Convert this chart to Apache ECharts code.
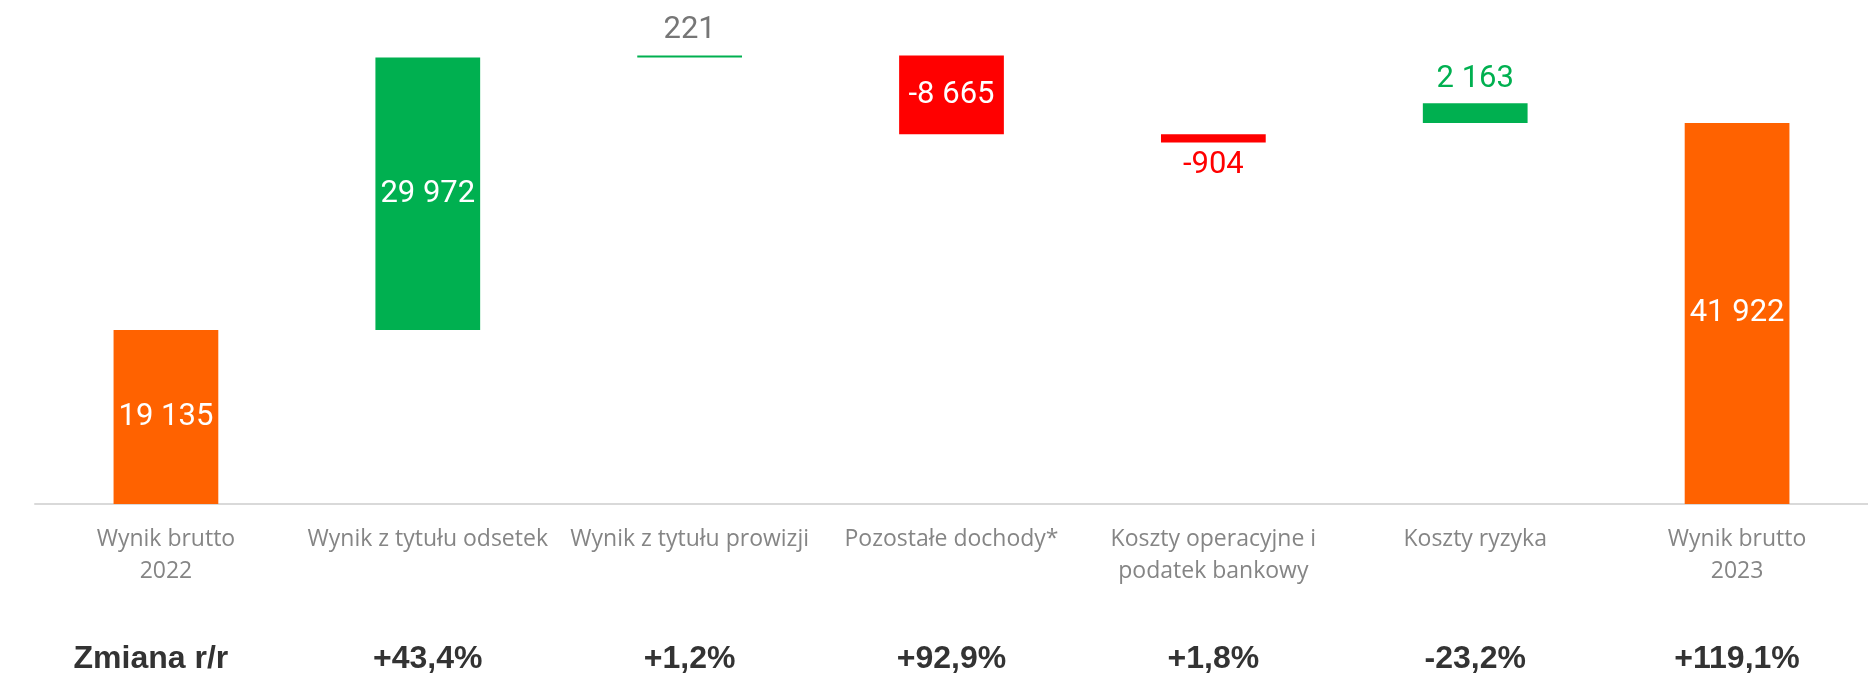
<!DOCTYPE html>
<html lang="pl">
<head>
<meta charset="UTF-8">
<title>Wynik brutto 2022 - 2023</title>
<script src="https://cdn.jsdelivr.net/npm/echarts@6/dist/echarts.min.js"></script>
<style>
  html, body { margin: 0; padding: 0; background: #fff; }
  #main { width: 1868px; height: 676px; }
</style>
</head>
<body>
<div id="main"></div>
<script>
// dane
var categories = ['Wynik brutto\n2022', 'Wynik z tytułu odsetek', 'Wynik z tytułu prowizji',
  'Pozostałe dochody*', 'Koszty operacyjne i\npodatek bankowy', 'Koszty ryzyka', 'Wynik brutto\n2023'];
var values = [19135, 29972, 221, -8665, -904, 2163, 41922];
// 'onTotal' = slupek narysowany na wysokosci wyniku koncowego (tak jak w oryginale)
var kinds = ['total', 'delta', 'delta', 'delta', 'delta', 'onTotal', 'total'];
var changes = ['Zmiana r/r', '+43,4%', '+1,2%', '+92,9%', '+1,8%', '-23,2%', '+119,1%'];

var ORANGE = '#FF6200', GREEN = '#00B050', RED = '#FF0000';
var numFont = "Roboto, sans-serif";

function fmt(v) {
  return String(v).replace(/\B(?=(\d{3})+(?!\d))/g, ' ');
}

// podstawa (niewidoczna) i wysokosc kazdego slupka
var finalTotal = values[values.length - 1];
var base = [], height = [];
var running = 0;
values.forEach(function (v, i) {
  if (kinds[i] === 'total') {
    base.push(0);
    height.push(v);
    running = v;
  } else if (kinds[i] === 'onTotal') {
    base.push(finalTotal);
    height.push(Math.abs(v));
  } else {
    base.push(v >= 0 ? running : running + v);
    height.push(Math.abs(v));
    running += v;
  }
});

var barData = values.map(function (v, i) {
  var color = kinds[i] === 'total' ? ORANGE : (v >= 0 ? GREEN : RED);
  var label = { show: true, color: '#fff', position: 'inside' };
  if (i === 2) { label = { show: true, position: 'top', distance: 10, color: '#767676' }; }
  if (i === 4) { label = { show: true, position: 'bottom', distance: 7, color: RED }; }
  if (i === 5) { label = { show: true, position: 'top', distance: 8, color: GREEN }; }
  return {
    value: height[i],
    itemStyle: { color: color },
    label: label
  };
});

var chart = echarts.init(document.getElementById('main'));
chart.setOption({
  animation: false,
  grid: { left: 35, right: 0, top: 4, bottom: 171 },
  xAxis: [{
    type: 'category',
    data: categories,
    axisLine: { lineStyle: { color: '#d9d9d9', width: 2 } },
    axisTick: { show: false },
    axisLabel: {
      interval: 0,
      color: '#858585',
      fontFamily: "'Open Sans', sans-serif",
      fontSize: 23,
      lineHeight: 32,
      margin: 19
    }
  }, {
    type: 'category',
    position: 'bottom',
    data: changes.map(function (c, i) {
      return i === 0 ? { value: c, textStyle: { padding: [0, 30, 0, 0] } } : c;
    }),
    axisLine: { show: false },
    axisTick: { show: false },
    axisLabel: {
      interval: 0,
      color: '#333333',
      fontFamily: "'Liberation Sans', sans-serif",
      fontWeight: 'bold',
      fontSize: 32,
      lineHeight: 34,
      margin: 138
    }
  }],
  yAxis: {
    type: 'value',
    min: 0,
    max: 55000,
    show: false,
    splitLine: { show: false }
  },
  series: [{
    type: 'bar',
    stack: 'wf',
    silent: true,
    barWidth: '40%',
    itemStyle: { color: 'transparent' },
    data: base
  }, {
    type: 'bar',
    stack: 'wf',
    barWidth: '40%',
    barMinHeight: 2,
    label: {
      show: true,
      fontFamily: numFont,
      fontSize: 31,
      formatter: function (p) { return fmt(values[p.dataIndex]); }
    },
    data: barData
  }]
});
</script>
</body>
</html>
